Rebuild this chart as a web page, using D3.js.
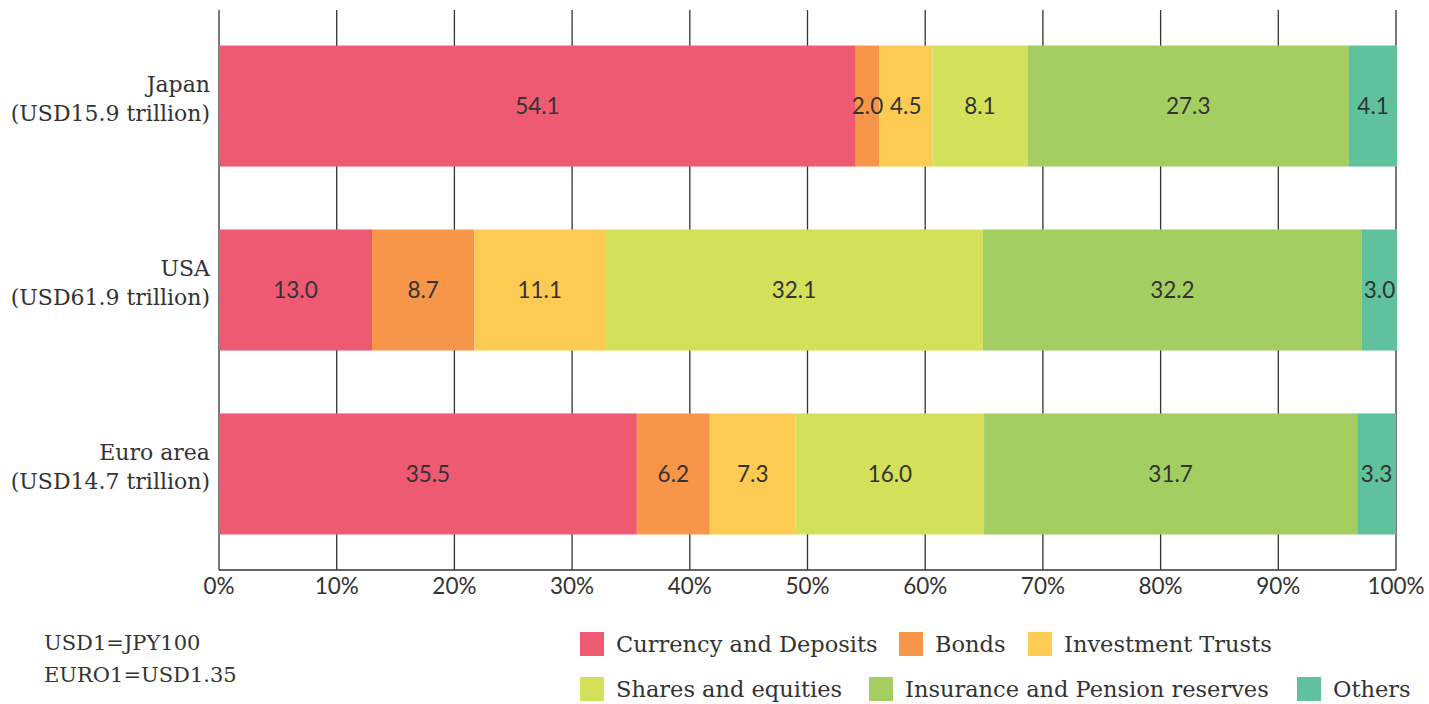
<!DOCTYPE html>
<html>
<head>
<meta charset="utf-8">
<script src="https://cdn.jsdelivr.net/npm/d3@7"></script>
<style>
  body { margin: 0; background: #fff; }
  .serif { font-family: "DejaVu Serif", serif; }
  .sans { font-family: Lato, "Open Sans", sans-serif; }
</style>
</head>
<body>
<div class="graph"></div>
<script>
  // data
  const regions = ['Japan', 'USA', 'Euro area'];
  const regionTotals = ['(USD15.9 trillion)', '(USD61.9 trillion)', '(USD14.7 trillion)'];
  const assets = ['Currency and Deposits', 'Bonds', 'Investment Trusts',
    'Shares and equities', 'Insurance and Pension reserves', 'Others'];
  const japan = [54.1, 2.0, 4.5, 8.1, 27.3, 4.1];
  const usa = [13.0, 8.7, 11.1, 32.1, 32.2, 3.0];
  const euro = [35.5, 6.2, 7.3, 16.0, 31.7, 3.3];
  const xTicks = [0, 10, 20, 30, 40, 50, 60, 70, 80, 90, 100];
  const notes = ['USD1=JPY100', 'EURO1=USD1.35'];

  const colors = ['#ef5a73', '#f79548', '#fdcb52', '#d4e05a', '#a4ce62', '#5fc29d'];

  const W = 1429, H = 704;
  const margin = { top: 10, left: 219, right: 33 };
  const plotW = W - margin.left - margin.right;
  const plotH = 560;

  const svg = d3.select('.graph')
    .append('svg')
    .attr('width', W)
    .attr('height', H)
    .append('g')
    .attr('transform', 'translate(' + margin.left + ',' + margin.top + ')');

  const xScale = d3.scaleLinear()
    .domain([0, 100])
    .range([0, plotW]);

  const yScale = d3.scaleBand()
    .domain(regions)
    .range([0, plotH])
    .paddingInner(0.342)
    .paddingOuter(0.193);

  // rows -> stacked table
  const rows = [japan, usa, euro].map((vals, i) => {
    const row = { region: regions[i] };
    assets.forEach((a, j) => row[a] = vals[j]);
    return row;
  });
  const series = d3.stack().keys(assets)(rows);

  // vertical grid lines
  svg.append('g')
    .selectAll('line')
    .data(xTicks)
    .join('line')
    .attr('x1', d => xScale(d))
    .attr('x2', d => xScale(d))
    .attr('y1', 0)
    .attr('y2', plotH)
    .attr('stroke', d => d === 100 ? '#777' : '#333')
    .attr('stroke-width', d => d === 100 ? 2 : 1.3);

  // bottom axis line
  svg.append('line')
    .attr('x1', 0)
    .attr('x2', plotW)
    .attr('y1', plotH)
    .attr('y2', plotH)
    .attr('stroke', '#333')
    .attr('stroke-width', 1.5);

  svg.selectAll('.series')
    .data(series)
    .join('g')
    .attr('class', 'series')
    .attr('fill', (d, i) => colors[i])
    .selectAll('rect')
    .data(d => d)
    .join('rect')
    .attr('x', d => xScale(d[0]))
    .attr('width', d => xScale(d[1]) - xScale(d[0]))
    .attr('y', d => yScale(d.data.region))
    .attr('height', yScale.bandwidth());

  // value labels on top of every segment
  const segs = series.flatMap(s => s.map(p => ({ p: p, key: s.key })));
  svg.append('g')
    .selectAll('text')
    .data(segs)
    .join('text')
    .attr('class', 'sans')
    .attr('x', d => xScale((d.p[0] + d.p[1]) / 2))
    .attr('y', d => yScale(d.p.data.region) + yScale.bandwidth() / 2)
    .attr('dy', '0.35em')
    .attr('text-anchor', 'middle')
    .attr('fill', '#333')
    .attr('font-size', 22.5)
    .text(d => d.p.data[d.key].toFixed(1));

  // x tick labels
  svg.append('g')
    .selectAll('text')
    .data(xTicks)
    .join('text')
    .attr('class', 'sans')
    .attr('x', d => xScale(d))
    .attr('y', plotH + 16)
    .attr('dy', '0.35em')
    .attr('text-anchor', 'middle')
    .attr('fill', '#333')
    .attr('font-size', 22.5)
    .text(d => d + '%');

  // category labels
  const cat = svg.append('g')
    .selectAll('text')
    .data(regions)
    .join('text')
    .attr('class', 'serif')
    .attr('text-anchor', 'end')
    .attr('fill', '#333')
    .attr('font-size', 22)
    .attr('y', d => yScale(d) + yScale.bandwidth() / 2);
  cat.append('tspan')
    .attr('x', -9)
    .attr('dy', -14)
    .text(d => d);
  cat.append('tspan')
    .attr('x', -9)
    .attr('dy', 29)
    .text((d, i) => regionTotals[i]);

  // notes
  const root = d3.select('svg');
  root.append('g')
    .selectAll('text')
    .data(notes)
    .join('text')
    .attr('class', 'serif')
    .attr('x', 44)
    .attr('y', (d, i) => 643 + i * 32)
    .attr('dy', '0.35em')
    .attr('fill', '#333')
    .attr('font-size', 21)
    .text(d => d);

  // legend, two rows of three
  const legendX = [580, 899, 1028, 580, 869, 1297];
  const legend = root.append('g')
    .selectAll('g')
    .data(assets)
    .join('g')
    .attr('transform', (d, i) => 'translate(' + legendX[i] + ',' + (i < 3 ? 632 : 677) + ')');
  legend.append('rect')
    .attr('width', 24)
    .attr('height', 24)
    .attr('fill', (d, i) => colors[i]);
  legend.append('text')
    .attr('class', 'serif')
    .attr('x', 36)
    .attr('y', 12)
    .attr('dy', '0.35em')
    .attr('fill', '#333')
    .attr('font-size', 22.5)
    .text(d => d);
</script>
</body>
</html>
